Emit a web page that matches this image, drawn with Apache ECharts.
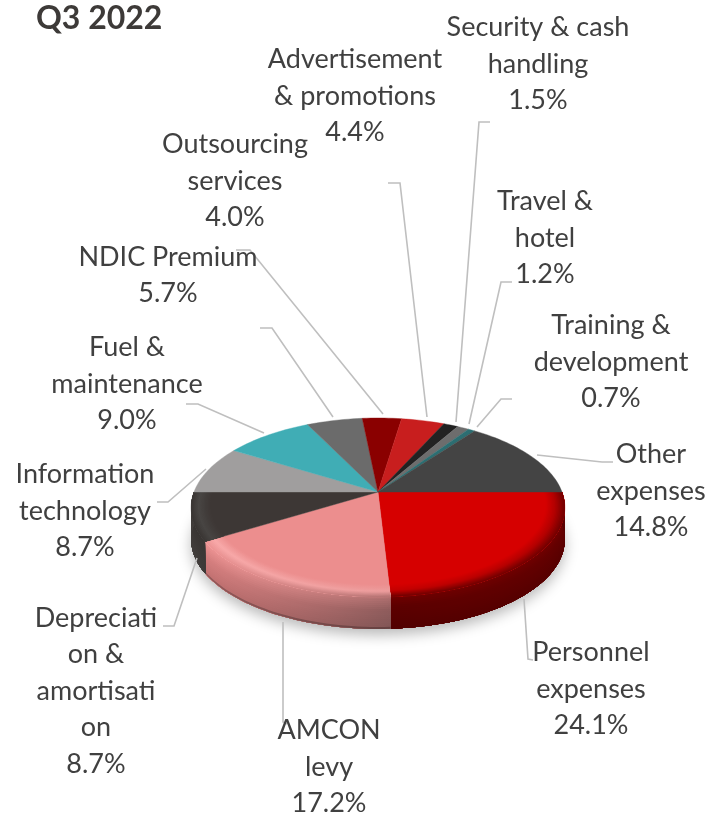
<!DOCTYPE html>
<html><head><meta charset="utf-8">
<style>html,body{margin:0;padding:0;background:#fff}#c{width:709px;height:813px}</style>
<script src="https://cdn.jsdelivr.net/npm/echarts@6/dist/echarts.min.js"></script>
</head><body><div id="c"></div>
<script>
const categories = ['Personnel\nexpenses','AMCON\nlevy','Depreciati\non &\namortisati\non','Information\ntechnology','Fuel &\nmaintenance','NDIC Premium','Outsourcing\nservices','Advertisement\n& promotions','Security & cash\nhandling','Travel &\nhotel','Training &\ndevelopment','Other\nexpenses'];
const shares = [24.1,17.2,8.7,8.7,9.0,5.7,4.0,4.4,1.5,1.2,0.7,14.8];
const sliceColors = ['#d60000','#ec8e8e','#3d3735','#a09e9e','#40adb5','#6b6b6b','#8a0000','#c81e1e','#222222','#6d6d6d','#2c6e72','#444444'];
const labelCentres = [[591,689],[329,767],[96,691],[85,511],[127,384],[168,275],[235,181],[355,96],[538,64],[545,238],[611,362],[651,491]];
const leaders = [
 [[524,599],[528,659],[533,660]],
 [[283,622],[283,722],[287,724]],
 [[197,558],[174,626],[163,626]],
 [[206,469],[168,502],[157,502]],
 [[264,433],[198,404],[186,404]],
 [[333,417],[272,328],[260,328]],
 [[383,414],[250,250],[236,250]],
 [[427,417],[400,183],[388,183]],
 [[456,422],[479,122],[490,122]],
 [[469,424],[501,282],[512,282]],
 [[477,427],[501,399],[512,399]],
 [[537,455],[602,462],[613,462]]
];
const CX=378, CY=492, R=184, K=-0.173, S=86.8, DEPTH=32, BEVEL=0.9;
const total = shares.reduce((a,b)=>a+b,0);
function proj(angle,r){ const u=r*Math.cos(angle), v=r*Math.sin(angle), w=1+K*v; return [CX+R*u/w, CY+S*v/w]; }
function hex(c){return [1,3,5].map(i=>parseInt(c.substr(i,2),16));}
function mix(a,b,t){const A=hex(a),B=hex(b);return '#'+A.map((x,i)=>Math.round(x+(B[i]-x)*t).toString(16).padStart(2,'0')).join('');}
// stops: t (0 inner bevel,1 rim,2 bottom of side), colour at slice start, colour at slice end
const frontShading = {
 0:[[0,'#d60000','#d60000'],[0.5,'#b00000','#c40000'],[1,'#700000','#6e0000'],[1.3,'#640000','#5c0000'],[2,'#560000','#520000']],
 1:[[0,'#ec8e8e','#ec8e8e'],[0.55,'#ec9c9c','#f9aaaa'],[1,'#b07070','#ee9494'],[1.4,'#8f5c5c','#d88080'],[1.93,'#825656','#c47272'],[2,'#503030','#6a4444']],
 2:[[0,'#3d3735','#3d3735'],[0.6,'#474442','#4a4745'],[1,'#3a3634','#383432'],[2,'#3e3a38','#423e3c']]
};
function shade(i,t,u){
  const st=frontShading[i]; let k=0;
  while(k<st.length-2 && t>st[k+1][0]) k++;
  const a=st[k],b=st[k+1],f=Math.min(1,Math.max(0,(t-a[0])/(b[0]-a[0])));
  return mix(mix(a[1],a[2],u),mix(b[1],b[2],u),f);
}
function arc(a0,a1,r,dy){const n=Math.max(2,Math.ceil((a1-a0)/0.03));const p=[];for(let j=0;j<=n;j++){const q=proj(a0+(a1-a0)*j/n,r);p.push([q[0],q[1]+dy]);}return p;}
function grad(i,t,xa,xb){return new echarts.graphic.LinearGradient(xa,0,xb,0,[{offset:0,color:shade(i,t,0)},{offset:1,color:shade(i,t,1)}],true);}
function renderSlice(params,api){
  const i=params.dataIndex; let before=0; for(let k=0;k<i;k++) before+=shares[k];
  const a0=before/total*2*Math.PI, a1=(before+api.value(1))/total*2*Math.PI;
  const kids=[];
  const apex=proj(0,0);
  const base=sliceColors[i];
  kids.push({type:'polygon',shape:{points:[apex].concat(arc(a0,a1,1,0))},style:{fill:base,stroke:base,lineWidth:0.4}});
  if(frontShading[i]){
    const outer=arc(a0,a1,1,0), xa=outer[0][0], xb=outer[outer.length-1][0];
    const nb=14, ns=16;
    for(let b=0;b<nb;b++){
      const r0=BEVEL+(1-BEVEL)*b/nb;
      kids.push({type:'polygon',shape:{points:arc(a0,a1,r0,0).concat(arc(a0,a1,1,0).reverse())},style:{fill:grad(i,(b+.5)/nb,xa,xb)}});
    }
    const bottom=arc(a0,a1,1,DEPTH).reverse();
    for(let b=0;b<ns;b++){
      const d=DEPTH*b/ns;
      kids.push({type:'polygon',z2:-1,shape:{points:arc(a0,a1,1,d).concat(bottom)},style:{fill:grad(i,1+(b+.5)/ns,xa,xb)}});
    }
  }
  return {type:'group',children:kids};
}
function renderLeader(params,api){
  const pts=leaders[params.dataIndex];
  return {type:'polyline',shape:{points:pts},style:{fill:null,stroke:'#bfbfbf',lineWidth:1.6}};
}
function renderLabel(params,api){
  const i=params.dataIndex, c=labelCentres[i];
  return {type:'text',x:c[0],y:c[1],style:{text:categories[i]+'\n'+shares[i].toFixed(1)+'%',font:'27px Lato',fill:'#404040',align:'center',verticalAlign:'middle',lineHeight:36.4}};
}
function renderBase(params,api){
  const pts=arc(0,2*Math.PI,1,0).map(p=>[p[0],p[1]+DEPTH]);
  return {type:'polygon',shape:{points:pts},style:{fill:'#dddddd',shadowBlur:14,shadowColor:'rgba(0,0,0,0.28)',shadowOffsetY:6}};
}
const sliceData=categories.map((n,i)=>({name:n.replace(/\n/g,' '),value:[i,shares[i]]}));
const chart=echarts.init(document.getElementById('c'),null,{renderer:'canvas'});
const noAxis={coordinateSystem:'none',silent:true,animation:false};
chart.setOption({
  animation:false,
  backgroundColor:'#ffffff',
  title:{text:'Q3 2022',left:31,top:-2,textStyle:{fontFamily:'Lato',fontWeight:'bold',fontSize:32,color:'#3d3a38'}},
  series:[
    Object.assign({type:'custom',z:1,data:[[0]],renderItem:renderBase},noAxis),
    Object.assign({type:'custom',z:2,data:sliceData,renderItem:renderSlice,encode:{value:1}},noAxis),
    Object.assign({type:'custom',z:3,data:leaders.map((_,i)=>[i]),renderItem:renderLeader},noAxis),
    Object.assign({type:'custom',z:4,data:categories.map((_,i)=>[i]),renderItem:renderLabel},noAxis)
  ]
});
</script></body></html>
